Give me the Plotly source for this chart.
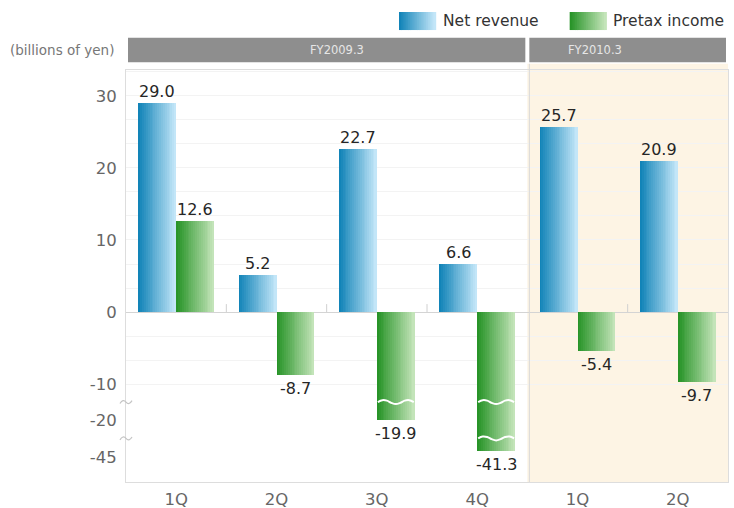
import numpy as np
import plotly.graph_objects as go

# dados (bilhões de ienes)
trimestres = ["1Q", "2Q", "3Q", "4Q", "1Q", "2Q"]
receita_liquida = [29.0, 5.2, 22.7, 6.6, 25.7, 20.9]
lucro_antes_ir = [12.6, -8.7, -19.9, -41.3, -5.4, -9.7]
anos_fiscais = ["FY2009.3", "FY2010.3"]
trimestres_por_ano = [4, 2]
y_ticks = [30, 20, 10, 0, -10, -20, -45]

# eixo com quebras: valores reais -> posição no eixo
QUEBRA_REAL = [-45, -20, -10, 40]
QUEBRA_EIXO = [-20.1, -15, -10, 40]


def eixo(v):
    return np.interp(v, QUEBRA_REAL, QUEBRA_EIXO)


LARGURA = 0.378
N_FATIAS = 20
FONTE = "DejaVu Sans, Verdana, sans-serif"


def _mistura(c0, c1, t):
    r, g, b = (round(a + (b_ - a) * t) for a, b_ in zip(c0, c1))
    return f"rgb({r},{g},{b})"


AZUL = ((18, 132, 184), (195, 230, 248))
VERDE = ((40, 148, 40), (195, 228, 185))

x = list(range(len(trimestres)))
fig = go.Figure()

# barras com gradiente horizontal (fatias)
for valores, base, cores in [
    (receita_liquida, -LARGURA, AZUL),
    (lucro_antes_ir, 0.0, VERDE),
]:
    passo = LARGURA / N_FATIAS
    for k in range(N_FATIAS):
        ultimo = k == N_FATIAS - 1
        fig.add_bar(
            x=x,
            y=eixo(valores),
            width=passo * (1.0 if ultimo else 1.6),
            offset=base + k * passo,
            marker_color=_mistura(*cores, k / (N_FATIAS - 1)),
            marker_line_width=0,
            showlegend=False,
            hoverinfo="skip",
        )

# rótulos de valor
for valores, desloc in [(receita_liquida, -LARGURA / 2), (lucro_antes_ir, LARGURA / 2)]:
    for i, v in enumerate(valores):
        fig.add_annotation(
            x=i + desloc,
            y=eixo(v),
            text=f"{v:.1f}",
            showarrow=False,
            yanchor="bottom" if v >= 0 else "top",
            yshift=0 if v >= 0 else -2,
            font=dict(family=FONTE, size=16, color="#262626"),
        )

# marcas de quebra (ondas brancas nas barras, til no eixo)
niveis_quebra = [(-10 + -20) / 2, (-20 + -45) / 2]
for nivel in niveis_quebra:
    y_q = float(eixo(nivel))
    for i, v in enumerate(lucro_antes_ir):
        if v < nivel:
            xs = np.linspace(i + 0.01, i + LARGURA - 0.01, 9)
            ys = y_q + 0.28 * np.sin(np.linspace(0, 3 * np.pi, 9))
            fig.add_scatter(
                x=xs, y=ys, mode="lines", line=dict(color="white", width=2, shape="spline"),
                showlegend=False, hoverinfo="skip",
            )
    fig.add_shape(
        type="path", xref="paper", yref="y", layer="above",
        path=f"M -0.01,{y_q - 0.2} Q -0.005,{y_q + 0.5} 0,{y_q} T 0.01,{y_q + 0.2}",
        line=dict(color="#c4c4c4", width=1.2),
    )

# fundo do FY2010.3 e separador
inicio = trimestres_por_ano[0] - 0.5
fig.add_shape(type="rect", xref="x", yref="paper", x0=inicio, x1=len(x) - 0.5, y0=0, y1=1.015,
              fillcolor="#fdf4e4", line_width=0, layer="below")
fig.add_shape(type="line", xref="x", yref="paper", x0=inicio + 0.02, x1=inicio + 0.02, y0=0, y1=1.015,
              line=dict(color="#d8d8d8", width=1))

# tracinhos no zero entre categorias
for i in range(len(x) - 1):
    if i + 0.5 == inicio:
        continue
    fig.add_shape(type="line", xref="x", yref="y", x0=i + 0.5, x1=i + 0.5, y0=0, y1=1.1,
                  line=dict(color="#d0d0d0", width=1))

# faixas dos anos fiscais
pos_texto = [1.6, 4.17]
x0 = -0.51
for ano, n, xt in zip(anos_fiscais, trimestres_por_ano, pos_texto):
    x1 = x0 + n
    fig.add_shape(type="rect", xref="x", yref="paper", x0=x0 + 0.03, x1=x1 - 0.01,
                  y0=1.019, y1=1.078, fillcolor="#8e8e8e", line_width=0)
    fig.add_annotation(x=xt, y=1.0485, xref="x", yref="paper", xanchor="center", yanchor="middle",
                       text=ano, showarrow=False,
                       font=dict(family=FONTE, size=11.5, color="#e6e6e6"))
    x0 = x1

fig.add_annotation(x=-0.196, y=1.0485, xref="paper", yref="paper", xanchor="left", yanchor="middle",
                   text="(billions of yen)", showarrow=False,
                   font=dict(family=FONTE, size=13.5, color="#777777"))

# legenda manual
for nome, cores, xs0 in [("Net revenue", AZUL, 0.4535), ("Pretax income", VERDE, 0.737)]:
    passo = 0.06 / N_FATIAS
    for k in range(N_FATIAS):
        fig.add_shape(type="rect", xref="paper", yref="paper",
                      x0=xs0 + k * passo, x1=xs0 + (k + 1.6) * passo, y0=1.097, y1=1.1408,
                      fillcolor=_mistura(*cores, k / (N_FATIAS - 1)), line_width=0)
    fig.add_annotation(x=xs0 + 0.069, y=1.119, xref="paper", yref="paper",
                       xanchor="left", yanchor="middle",
                       text=nome, showarrow=False,
                       font=dict(family=FONTE, size=15.5, color="#333333"))

menores = [v for v in np.arange(-10, 34, 10 / 3)]
fig.update_layout(
    width=734,
    height=508,
    margin=dict(l=126, r=6, t=70, b=26),
    barmode="overlay",
    bargap=0,
    plot_bgcolor="white",
    paper_bgcolor="white",
    showlegend=False,
    font=dict(family=FONTE),
)
fig.update_xaxes(
    range=[-0.5, len(x) - 0.5],
    tickvals=x,
    ticktext=trimestres,
    tickfont=dict(size=16.5, color="#666666"),
    showgrid=False,
    zeroline=False,
    showline=True,
    mirror=True,
    linecolor="#dddddd",
    ticks="",
    ticklabelstandoff=2,
    automargin=False,
)
fig.update_yaxes(
    range=[-23.6, 33.6],
    tickvals=eixo(y_ticks),
    ticktext=[str(v) for v in y_ticks],
    tickfont=dict(size=16.5, color="#666666"),
    showgrid=False,
    zeroline=True,
    zerolinecolor="#d4d4d4",
    zerolinewidth=1,
    showline=True,
    mirror=True,
    linecolor="#dddddd",
    ticks="",
    ticklabelstandoff=5,
    automargin=False,
    minor=dict(tickvals=menores, showgrid=True, gridcolor="#f3f3f3"),
)

# página sem a margem padrão do body, para o gráfico ocupar a janela inteira
fig.write_html(
    "out.html",
    config={"displayModeBar": False},
    post_script="document.body.style.margin='0';",
)
